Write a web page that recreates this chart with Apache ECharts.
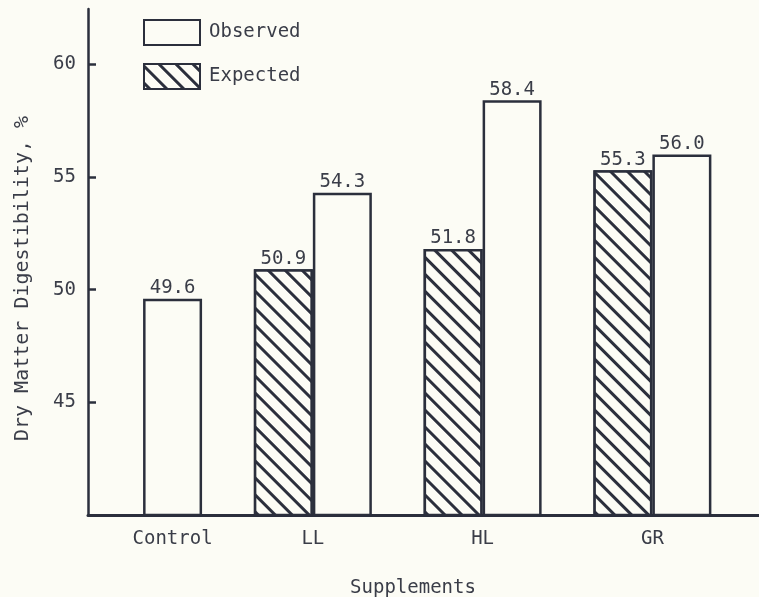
<!DOCTYPE html>
<html>
<head>
<meta charset="utf-8">
<script src="https://cdn.jsdelivr.net/npm/echarts@6/dist/echarts.min.js"></script>
<style>
html,body{margin:0;padding:0;background:#fcfcf5;}
#c{width:759px;height:597px;}
</style>
</head>
<body>
<div id="c"></div>
<script>
const categories = ['Control', 'LL', 'HL', 'GR'];
const observed = [49.6, 54.3, 58.4, 56.0];
const expected = [null, 50.9, 51.8, 55.3];
const yTicks = [45, 50, 55, 60];
const seriesNames = ['Observed', 'Expected'];

const INK = '#2b2f3c';
const TXT = '#3a3d48';
const BG = '#fcfcf5';
const FONT = '"DejaVu Sans Mono", monospace';
const FS = 19;

const pos = categories.map((c, i) => i + 1);
const obsData = pos.map((p, i) => [p, observed[i]]);
const expData = pos.map((p, i) => expected[i] == null ? [p, '-'] : [p, expected[i]]);

const chart = echarts.init(document.getElementById('c'), null, {renderer: 'canvas'});
chart.setOption({
  backgroundColor: BG,
  animation: false,
  textStyle: {fontFamily: FONT, color: TXT},
  legend: {
    data: [seriesNames[0], seriesNames[1]],
    orient: 'vertical',
    left: 143,
    top: 19,
    padding: 0,
    itemWidth: 56,
    itemHeight: 25,
    itemGap: 17,
    icon: 'rect',
    textStyle: {fontFamily: FONT, fontSize: FS, color: TXT, padding: [0, 0, 0, 4]},
    selectedMode: false
  },
  grid: {left: 88, right: 0, top: 9, bottom: 82, containLabel: false, outerBoundsMode: 'none'},
  xAxis: {
    type: 'value',
    min: 0.6756,
    max: 4.628,
    splitLine: {show: false},
    axisLine: {show: true, onZero: false, lineStyle: {color: INK, width: 3}},
    axisTick: {show: false},
    axisLabel: {
      customValues: pos,
      margin: 15,
      fontFamily: FONT,
      fontSize: FS,
      color: TXT,
      formatter: function (v) {
        const i = Math.round(v) - 1;
        return i === 0 ? '{s|' + categories[i] + '}' : categories[i];
      },
      rich: {s: {fontFamily: FONT, fontSize: FS, color: TXT, padding: [0, 0, 0, 59]}}
    },
    name: 'Supplements',
    nameLocation: 'middle',
    nameGap: 64,
    nameTextStyle: {fontFamily: FONT, fontSize: FS, color: TXT, padding: [0, 21, 0, 0]}
  },
  yAxis: {
    type: 'value',
    min: 40,
    max: 62.45,
    interval: 5,
    splitLine: {show: false},
    axisLine: {show: true, lineStyle: {color: INK, width: 2.5}},
    axisTick: {show: true, inside: true, length: 8, customValues: yTicks, lineStyle: {color: INK, width: 2.5}},
    axisLabel: {customValues: yTicks, margin: 12, fontFamily: FONT, fontSize: FS, color: TXT},
    name: 'Dry Matter Digestibility, %',
    nameLocation: 'middle',
    nameRotate: 90,
    nameGap: 55,
    nameTextStyle: {fontFamily: FONT, fontSize: 20, color: TXT, padding: [0, 33, 0, 0]}
  },
  series: [
    {
      name: seriesNames[1],
      type: 'bar',
      data: expData,
      barWidth: 59,
      barGap: '0%',
      itemStyle: {
        color: BG,
        borderColor: INK,
        borderWidth: 2.5,
        decal: {
          symbol: 'rect',
          symbolSize: 1,
          dashArrayX: [1, 0],
          dashArrayY: [2.3, 9],
          rotation: Math.PI / 4,
          color: INK,
          backgroundColor: BG
        }
      },
      label: {show: true, position: 'top', distance: 1, fontFamily: FONT, fontSize: FS, color: TXT,
        formatter: p => p.value[1].toFixed(1)}
    },
    {
      name: seriesNames[0],
      type: 'bar',
      data: obsData,
      barWidth: 59,
      barGap: '0%',
      itemStyle: {color: BG, borderColor: INK, borderWidth: 2.5},
      label: {show: true, position: 'top', distance: 1, fontFamily: FONT, fontSize: FS, color: TXT,
        formatter: p => p.value[1].toFixed(1)}
    }
  ]
});
</script>
</body>
</html>
